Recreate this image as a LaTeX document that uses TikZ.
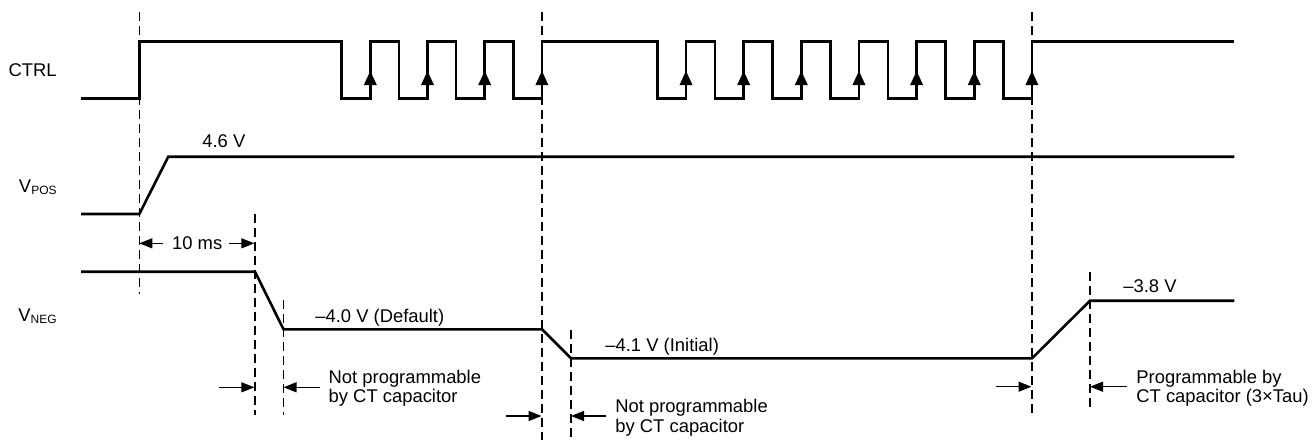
\documentclass[tikz,border=0pt]{standalone}
\usepackage{fontspec}
\setmainfont{Liberation Sans}
\usetikzlibrary{arrows.meta}
\begin{document}
\begin{tikzpicture}[x=0.5pt,y=-0.5pt,
  sig/.style={line width=1.3pt, line join=miter},
  guide/.style={line width=0.6pt, dash pattern=on 4.4pt off 2.6pt},
  dim/.style={line width=0.65pt, -{Triangle[length=6.5pt,width=5pt]}},
  lbl/.style={inner sep=0pt, font=\fontsize{9.2}{10}\selectfont},
  edgetip/.style={fill=black}
]
\useasboundingbox (0,0) rectangle (1312,441);

% ---------- guide lines ----------
\draw[guide] (139.3,12) -- (139.3,294);
\draw[guide] (255,214) -- (255,415);
\draw[guide] (283.5,300) -- (283.5,415);
\draw[guide] (542,12) -- (542,440);
\draw[guide] (571,330) -- (571,440);
\draw[guide] (1032,12) -- (1032,415);
\draw[guide] (1090,272) -- (1090,408);

% ---------- CTRL ----------
\draw[sig] (81,98.5) -- (139.3,98.5) -- (139.3,41.7)
  \foreach \f in {341.7,398.9,456.1,513.3} { -- (\f,41.7) -- (\f,98.5) -- (\f+28.6,98.5) -- (\f+28.6,41.7) }
  \foreach \f in {657.4,715.05,772.7,830.35,888.0,945.65,1003.3} { -- (\f,41.7) -- (\f,98.5) -- (\f+28.6,98.5) -- (\f+28.6,41.7) }
  -- (1234.3,41.7);
\foreach \f in {341.7,398.9,456.1,513.3,657.4,715.05,772.7,830.35,888.0,945.65,1003.3}
  \fill[edgetip] (\f+28.6,71) -- ++(-6.5,14) -- ++(13,0) -- cycle;

% ---------- VPOS ----------
\draw[sig] (81,214) -- (139.3,214) -- (168.3,156.7) -- (1234.3,156.7);

% ---------- VNEG ----------
\draw[sig] (81,271.7) -- (255,271.7) -- (283.5,329.3) -- (542,329.3)
  -- (571,358.3) -- (1032,358.3) -- (1090,300.7) -- (1234.3,300.7);

% ---------- signal names ----------
\node[lbl, anchor=base east] (ctrl) at (57,76.6) {CTRL};
\node[lbl, anchor=base east] (vpos) at (57,192.5) {V\raisebox{-0.9pt}{\fontsize{6}{6}\selectfont POS}};
\node[lbl, anchor=base east] (vneg) at (57,321.6) {V\raisebox{-0.9pt}{\fontsize{6}{6}\selectfont NEG}};

% ---------- level labels ----------
\node[lbl, anchor=base west] (v46) at (202,147.7) {4.6 V};
\node[lbl, anchor=base west] (v40) at (315,322.7) {–4.0 V (Default)};
\node[lbl, anchor=base west] (v41) at (605,351.7) {–4.1 V (Initial)};
\node[lbl, anchor=base west] (v38) at (1123,292.7) {–3.8 V};

% ---------- 10 ms ----------
\node[lbl, anchor=base] (t10) at (197.2,249.3) {10 ms};
\coordinate (t10l) at (139.3,243.3);
\coordinate (t10r) at (254.3,243.3);
\draw[dim] (t10.west |- t10l) ++(-9,0) -- (t10l);
\draw[dim] (t10.east |- t10r) ++(6,0) -- (t10r);

% ---------- note A ----------
\node[lbl, anchor=base west] (na1) at (328.3,383) {Not programmable};
\node[lbl, anchor=base west] (na2) at (328.3,402) {by CT capacitor};
\coordinate (naL) at (219.3,387.3);
\coordinate (naLt) at (254.3,387.3);
\coordinate (naR) at (320,387.3);
\coordinate (naRt) at (283.5,387.3);
\draw[dim] (naL) -- (naLt);
\draw[dim] (naR) -- (naRt);

% ---------- note B ----------
\node[lbl, anchor=base west] (nb1) at (615,412) {Not programmable};
\node[lbl, anchor=base west] (nb2) at (615,432) {by CT capacitor};
\coordinate (nbL) at (506,416);
\coordinate (nbLt) at (541.5,416);
\coordinate (nbR) at (606,416);
\coordinate (nbRt) at (571,416);
\draw[dim] (nbL) -- (nbLt);
\draw[dim] (nbR) -- (nbRt);

% ---------- note C ----------
\node[lbl, anchor=base west] (nc1) at (1136,383.3) {Programmable by};
\node[lbl, anchor=base west] (nc2) at (1136,402.7) {CT capacitor (3×Tau)};
\coordinate (ncL) at (996,386.7);
\coordinate (ncLt) at (1031.5,386.7);
\coordinate (ncR) at (1126.7,386.7);
\coordinate (ncRt) at (1090,386.7);
\draw[dim] (ncL) -- (ncLt);
\draw[dim] (ncR) -- (ncRt);
\end{tikzpicture}
\end{document}
